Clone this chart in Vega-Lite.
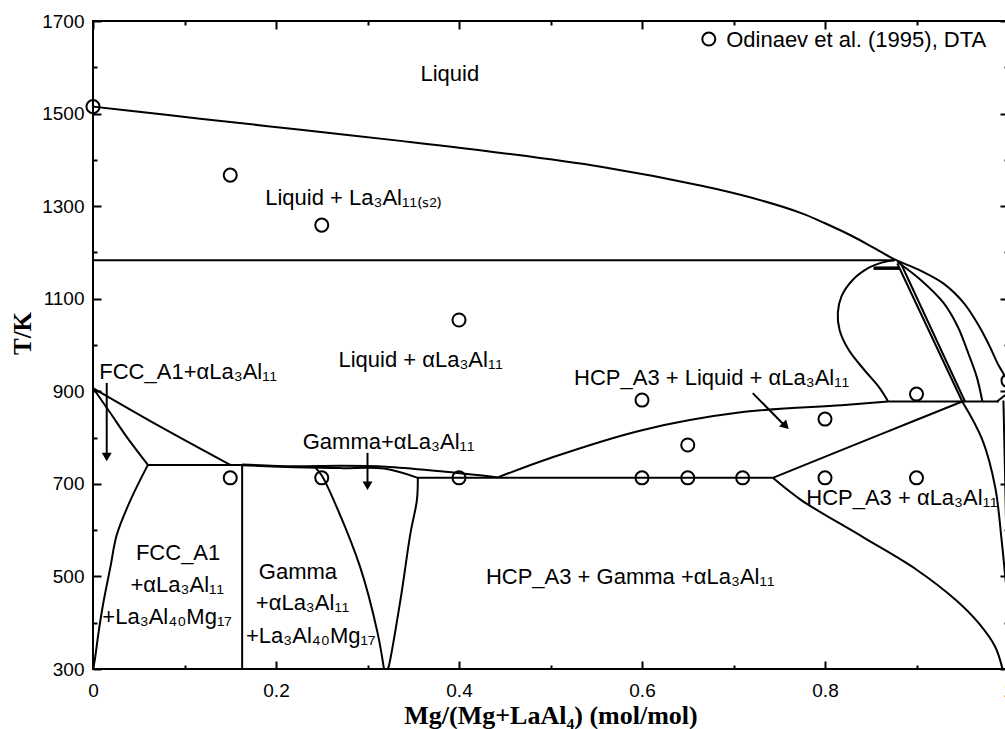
{
  "$schema": "https://vega.github.io/schema/vega-lite/v6.json",
  "width": 915,
  "height": 648,
  "autosize": "none",
  "padding": {"left": 93, "top": 21, "right": -3, "bottom": 60},
  "background": "white",
  "config": {
    "view": {"stroke": "black", "strokeWidth": 2},
    "font": "Liberation Sans"
  },
  "datasets": {
    "lines": [
      {"s":"liq","o":1,"x":0,"T":1515},{"s":"liq","o":2,"x":0.06,"T":1502},{"s":"liq","o":3,"x":0.117,"T":1489},{"s":"liq","o":4,"x":0.227,"T":1465},{"s":"liq","o":5,"x":0.336,"T":1441},{"s":"liq","o":6,"x":0.446,"T":1415},{"s":"liq","o":7,"x":0.555,"T":1385},{"s":"liq","o":8,"x":0.665,"T":1344},{"s":"liq","o":9,"x":0.72,"T":1318},{"s":"liq","o":10,"x":0.774,"T":1285},{"s":"liq","o":11,"x":0.8,"T":1263},{"s":"liq","o":12,"x":0.829,"T":1236},{"s":"liq","o":13,"x":0.855,"T":1208},{"s":"liq","o":14,"x":0.876,"T":1185},{"s":"liq","o":15,"x":0.905,"T":1160},{"s":"liq","o":16,"x":0.93,"T":1132},{"s":"liq","o":17,"x":0.952,"T":1090},{"s":"liq","o":18,"x":0.968,"T":1042},{"s":"liq","o":19,"x":0.98,"T":997},{"s":"liq","o":20,"x":0.99,"T":955},{"s":"liq","o":21,"x":1.0,"T":923},
      {"s":"liq2","o":1,"x":0.879,"T":1180},{"s":"liq2","o":2,"x":0.905,"T":1140},{"s":"liq2","o":3,"x":0.93,"T":1090},{"s":"liq2","o":4,"x":0.945,"T":1040},{"s":"liq2","o":5,"x":0.957,"T":980},{"s":"liq2","o":6,"x":0.966,"T":930},{"s":"liq2","o":7,"x":0.972,"T":878},
      {"s":"loop","o":1,"x":0.876,"T":1183},{"s":"loop","o":2,"x":0.862,"T":1178},{"s":"loop","o":3,"x":0.848,"T":1167},{"s":"loop","o":4,"x":0.83,"T":1140},{"s":"loop","o":5,"x":0.818,"T":1105},{"s":"loop","o":6,"x":0.814,"T":1069},{"s":"loop","o":7,"x":0.816,"T":1032},{"s":"loop","o":8,"x":0.826,"T":989},{"s":"loop","o":9,"x":0.843,"T":946},{"s":"loop","o":10,"x":0.859,"T":909},{"s":"loop","o":11,"x":0.869,"T":878},
      {"s":"hcp1a","o":1,"x":0.879,"T":1176},{"s":"hcp1a","o":2,"x":0.95,"T":878},
      {"s":"hcp1b","o":1,"x":0.883,"T":1176},{"s":"hcp1b","o":2,"x":0.953,"T":878},
      {"s":"hcps","o":1,"x":0.95,"T":878},{"s":"hcps","o":2,"x":0.972,"T":795},{"s":"hcps","o":3,"x":0.986,"T":693},{"s":"hcps","o":4,"x":0.993,"T":579},{"s":"hcps","o":5,"x":0.997,"T":500},{"s":"hcps","o":6,"x":1.0,"T":440},
      {"s":"p880","o":1,"x":0.869,"T":878},{"s":"p880","o":2,"x":0.99,"T":878},
      {"s":"tri","o":1,"x":0.988,"T":878},{"s":"tri","o":2,"x":0.997,"T":892},
      {"s":"mg","o":1,"x":0.995,"T":880},{"s":"mg","o":2,"x":0.998,"T":600},{"s":"mg","o":3,"x":1.0,"T":300},
      {"s":"p880c","o":1,"x":0.4425,"T":714},{"s":"p880c","o":2,"x":0.5,"T":756},{"s":"p880c","o":3,"x":0.6,"T":816},{"s":"p880c","o":4,"x":0.71,"T":855},{"s":"p880c","o":5,"x":0.818,"T":870},{"s":"p880c","o":6,"x":0.869,"T":878},
      {"s":"solv713","o":1,"x":0.743,"T":713},{"s":"solv713","o":2,"x":0.862,"T":808},{"s":"solv713","o":3,"x":0.95,"T":878},
      {"s":"lower","o":1,"x":0.743,"T":713},{"s":"lower","o":2,"x":0.774,"T":665},{"s":"lower","o":3,"x":0.8415,"T":585},{"s":"lower","o":4,"x":0.9005,"T":514},{"s":"lower","o":5,"x":0.943,"T":449},{"s":"lower","o":6,"x":0.968,"T":399},{"s":"lower","o":7,"x":0.986,"T":348},{"s":"lower","o":8,"x":0.994,"T":300},
      {"s":"p713","o":1,"x":0.355,"T":713},{"s":"p713","o":2,"x":0.743,"T":713},
      {"s":"gup","o":1,"x":0.163,"T":742},{"s":"gup","o":2,"x":0.22,"T":738},{"s":"gup","o":3,"x":0.27,"T":739},{"s":"gup","o":4,"x":0.32,"T":737},{"s":"gup","o":5,"x":0.38,"T":727},{"s":"gup","o":6,"x":0.4425,"T":714},
      {"s":"glow","o":1,"x":0.163,"T":740},{"s":"glow","o":2,"x":0.22,"T":736},{"s":"glow","o":3,"x":0.27,"T":734},{"s":"glow","o":4,"x":0.318,"T":733},{"s":"glow","o":5,"x":0.355,"T":713},
      {"s":"gL","o":1,"x":0.243,"T":735},{"s":"gL","o":2,"x":0.25,"T":718},{"s":"gL","o":3,"x":0.263,"T":665},{"s":"gL","o":4,"x":0.292,"T":520},{"s":"gL","o":5,"x":0.311,"T":378},{"s":"gL","o":6,"x":0.318,"T":300},
      {"s":"gR","o":1,"x":0.355,"T":713},{"s":"gR","o":2,"x":0.354,"T":665},{"s":"gR","o":3,"x":0.347,"T":594},{"s":"gR","o":4,"x":0.336,"T":449},{"s":"gR","o":5,"x":0.323,"T":304},{"s":"gR","o":6,"x":0.322,"T":300},
      {"s":"p741","o":1,"x":0.06,"T":741},{"s":"p741","o":2,"x":0.163,"T":741},
      {"s":"v163","o":1,"x":0.163,"T":741},{"s":"v163","o":2,"x":0.163,"T":300},
      {"s":"fccA","o":1,"x":0,"T":907},{"s":"fccA","o":2,"x":0.075,"T":822},{"s":"fccA","o":3,"x":0.15,"T":741},
      {"s":"fccB","o":1,"x":0,"T":907},{"s":"fccB","o":2,"x":0.019,"T":853},{"s":"fccB","o":3,"x":0.037,"T":801},{"s":"fccB","o":4,"x":0.06,"T":741},
      {"s":"fccS","o":1,"x":0.06,"T":741},{"s":"fccS","o":2,"x":0.041,"T":665},{"s":"fccS","o":3,"x":0.026,"T":590},{"s":"fccS","o":4,"x":0.019,"T":520},{"s":"fccS","o":5,"x":0.011,"T":440},{"s":"fccS","o":6,"x":0.006,"T":378},{"s":"fccS","o":7,"x":0.002,"T":320},{"s":"fccS","o":8,"x":0,"T":300},
      {"s":"p1183","o":1,"x":0,"T":1183},{"s":"p1183","o":2,"x":0.876,"T":1183},
      {"s":"p1166","o":1,"x":0.853,"T":1166},{"s":"p1166","o":2,"x":0.882,"T":1166}
    ],
    "pts": [
      {"x":0,"T":1515},{"x":0.15,"T":1367},{"x":0.25,"T":1259},{"x":0.4,"T":1054},
      {"x":0.15,"T":713},{"x":0.25,"T":713},{"x":0.4,"T":713},{"x":0.6,"T":713},{"x":0.65,"T":713},{"x":0.71,"T":713},{"x":0.8,"T":713},{"x":0.9,"T":713},
      {"x":0.6,"T":881},{"x":0.65,"T":784},{"x":0.8,"T":840},{"x":0.9,"T":894},{"x":1.0,"T":923},
      {"x":0.673,"T":1661}
    ],
    "labels": [
      {"x":0.39,"T":1585,"t":"Liquid"},
      {"x":0.285,"T":1318,"t":"Liquid + La₃Al₁₁₍ₛ₂₎"},
      {"x":0.358,"T":968,"t":"Liquid + αLa₃Al₁₁"},
      {"x":0.676,"T":929,"t":"HCP_A3 + Liquid + αLa₃Al₁₁"},
      {"x":0.323,"T":790,"t":"Gamma+αLa₃Al₁₁"},
      {"x":0.884,"T":669,"t":"HCP_A3 + αLa₃Al₁₁"},
      {"x":0.093,"T":551,"t":"FCC_A1"},
      {"x":0.092,"T":481,"t":"+αLa₃Al₁₁"},
      {"x":0.081,"T":412,"t":"+La₃Al₄₀Mg₁₇"},
      {"x":0.224,"T":510,"t":"Gamma"},
      {"x":0.229,"T":443,"t":"+αLa₃Al₁₁"},
      {"x":0.238,"T":371,"t":"+La₃Al₄₀Mg₁₇"},
      {"x":0.587,"T":499,"t":"HCP_A3 + Gamma +αLa₃Al₁₁"},
      {"x":0.104,"T":942,"t":"FCC_A1+αLa₃Al₁₁"}
    ],
    "legend": [{"x":0.692,"T":1659,"t":"Odinaev et al. (1995), DTA"}],
    "arrows": [
      {"x":0.015,"T":918,"x2":0.015,"T2":762},
      {"x":0.30,"T":767,"x2":0.30,"T2":700},
      {"x":0.721,"T":896,"x2":0.754,"T2":830}
    ],
    "headsV": [{"x":0.015,"T":758},{"x":0.30,"T":696}],
    "headsD": [{"x":0.757,"T":825}]
  },
  "layer": [
    {
      "data": {"name": "lines"},
      "transform": [{"filter": "datum.s !== 'p1166'"}],
      "mark": {"type": "line", "interpolate": "catmull-rom", "color": "black", "strokeWidth": 2},
      "encoding": {
        "x": {"field": "x", "type": "quantitative", "scale": {"domain": [0, 1], "nice": false, "zero": false},
          "axis": {"orient": "bottom", "values": [0,0.1,0.2,0.3,0.4,0.5,0.6,0.7,0.8,0.9,1], "domain": false, "grid": false,
            "tickSize": {"condition": {"test": "round(datum.value*10)%2===0", "value": -8}, "value": -4},
            "tickWidth": 2, "tickColor": "black",
            "labelExpr": "round(datum.value*10)%2===0 ? format(datum.value,'~g') : ''",
            "labelFont": "Liberation Sans", "labelFontSize": 19, "labelColor": "black", "labelPadding": 20, "labelFlush": false, "labelOverlap": false,
            "title": "Mg/(Mg+LaAl₄) (mol/mol)", "titleFont": "Liberation Serif", "titleFontSize": 26, "titleFontWeight": "bold", "titleColor": "black",
            "titleY": 46, "titleBaseline": "middle"}},
        "y": {"field": "T", "type": "quantitative", "scale": {"domain": [300, 1700], "nice": false, "zero": false},
          "axis": {"orient": "left", "values": [300,400,500,600,700,800,900,1000,1100,1200,1300,1400,1500,1600,1700], "domain": false, "grid": false,
            "tickSize": {"condition": {"test": "round(datum.value/100)%2===1", "value": -8}, "value": -4},
            "tickWidth": 2, "tickColor": "black",
            "labelExpr": "round(datum.value/100)%2===1 ? format(datum.value,'d') : ''",
            "labelFont": "Liberation Sans", "labelFontSize": 19, "labelColor": "black", "labelPadding": 17, "labelOverlap": false, "labelFlush": false,
            "title": "T/K", "titleFont": "Liberation Serif", "titleFontSize": 25, "titleFontWeight": "bold", "titleColor": "black",
            "titleX": -71, "titleY": 312, "titleBaseline": "middle", "titleAngle": -90}},
        "detail": {"field": "s"},
        "order": {"field": "o", "type": "quantitative"}
      }
    },
    {
      "data": {"name": "lines"},
      "transform": [{"filter": "datum.s === 'p1166'"}],
      "mark": {"type": "line", "color": "black", "strokeWidth": 3.5},
      "encoding": {
        "x": {"field": "x", "type": "quantitative", "axis": {"orient": "top", "values": [0,0.1,0.2,0.3,0.4,0.5,0.6,0.7,0.8,0.9,1], "domain": false, "grid": false, "labels": false, "title": null,
            "tickSize": {"condition": {"test": "round(datum.value*10)%2===0", "value": -8}, "value": -4}, "tickWidth": 2, "tickColor": "black"}},
        "y": {"field": "T", "type": "quantitative", "axis": {"orient": "right", "values": [300,400,500,600,700,800,900,1000,1100,1200,1300,1400,1500,1600,1700], "domain": false, "grid": false, "labels": false, "title": null,
            "tickSize": {"condition": {"test": "round(datum.value/100)%2===1", "value": -8}, "value": -4}, "tickWidth": 2, "tickColor": "black"}},
        "detail": {"field": "s"},
        "order": {"field": "o", "type": "quantitative"}
      }
    },
    {
      "data": {"name": "pts"},
      "mark": {"type": "point", "shape": "circle", "filled": false, "color": "black", "strokeWidth": 2, "size": 170, "opacity": 1},
      "encoding": {
        "x": {"field": "x", "type": "quantitative", "axis": null},
        "y": {"field": "T", "type": "quantitative", "axis": null}
      }
    },
    {
      "data": {"name": "arrows"},
      "mark": {"type": "rule", "color": "black", "strokeWidth": 2},
      "encoding": {
        "x": {"field": "x", "type": "quantitative", "axis": null},
        "y": {"field": "T", "type": "quantitative", "axis": null},
        "x2": {"field": "x2"},
        "y2": {"field": "T2"}
      }
    },
    {
      "data": {"name": "headsV"},
      "mark": {"type": "point", "shape": "triangle-down", "filled": true, "color": "black", "size": 100, "opacity": 1},
      "encoding": {
        "x": {"field": "x", "type": "quantitative", "axis": null},
        "y": {"field": "T", "type": "quantitative", "axis": null}
      }
    },
    {
      "data": {"name": "headsD"},
      "mark": {"type": "point", "shape": "triangle-up", "angle": 135, "filled": true, "color": "black", "size": 100, "opacity": 1},
      "encoding": {
        "x": {"field": "x", "type": "quantitative", "axis": null},
        "y": {"field": "T", "type": "quantitative", "axis": null}
      }
    },
    {
      "data": {"name": "labels"},
      "mark": {"type": "text", "align": "center", "baseline": "middle", "font": "Liberation Sans", "fontSize": 22, "color": "black"},
      "encoding": {
        "x": {"field": "x", "type": "quantitative", "axis": null},
        "y": {"field": "T", "type": "quantitative", "axis": null},
        "text": {"field": "t"}
      }
    },
    {
      "data": {"name": "legend"},
      "mark": {"type": "text", "align": "left", "baseline": "middle", "font": "Liberation Sans", "fontSize": 22, "color": "black"},
      "encoding": {
        "x": {"field": "x", "type": "quantitative", "axis": null},
        "y": {"field": "T", "type": "quantitative", "axis": null},
        "text": {"field": "t"}
      }
    }
  ],
  "resolve": {"axis": {"x": "independent", "y": "independent"}}
}
